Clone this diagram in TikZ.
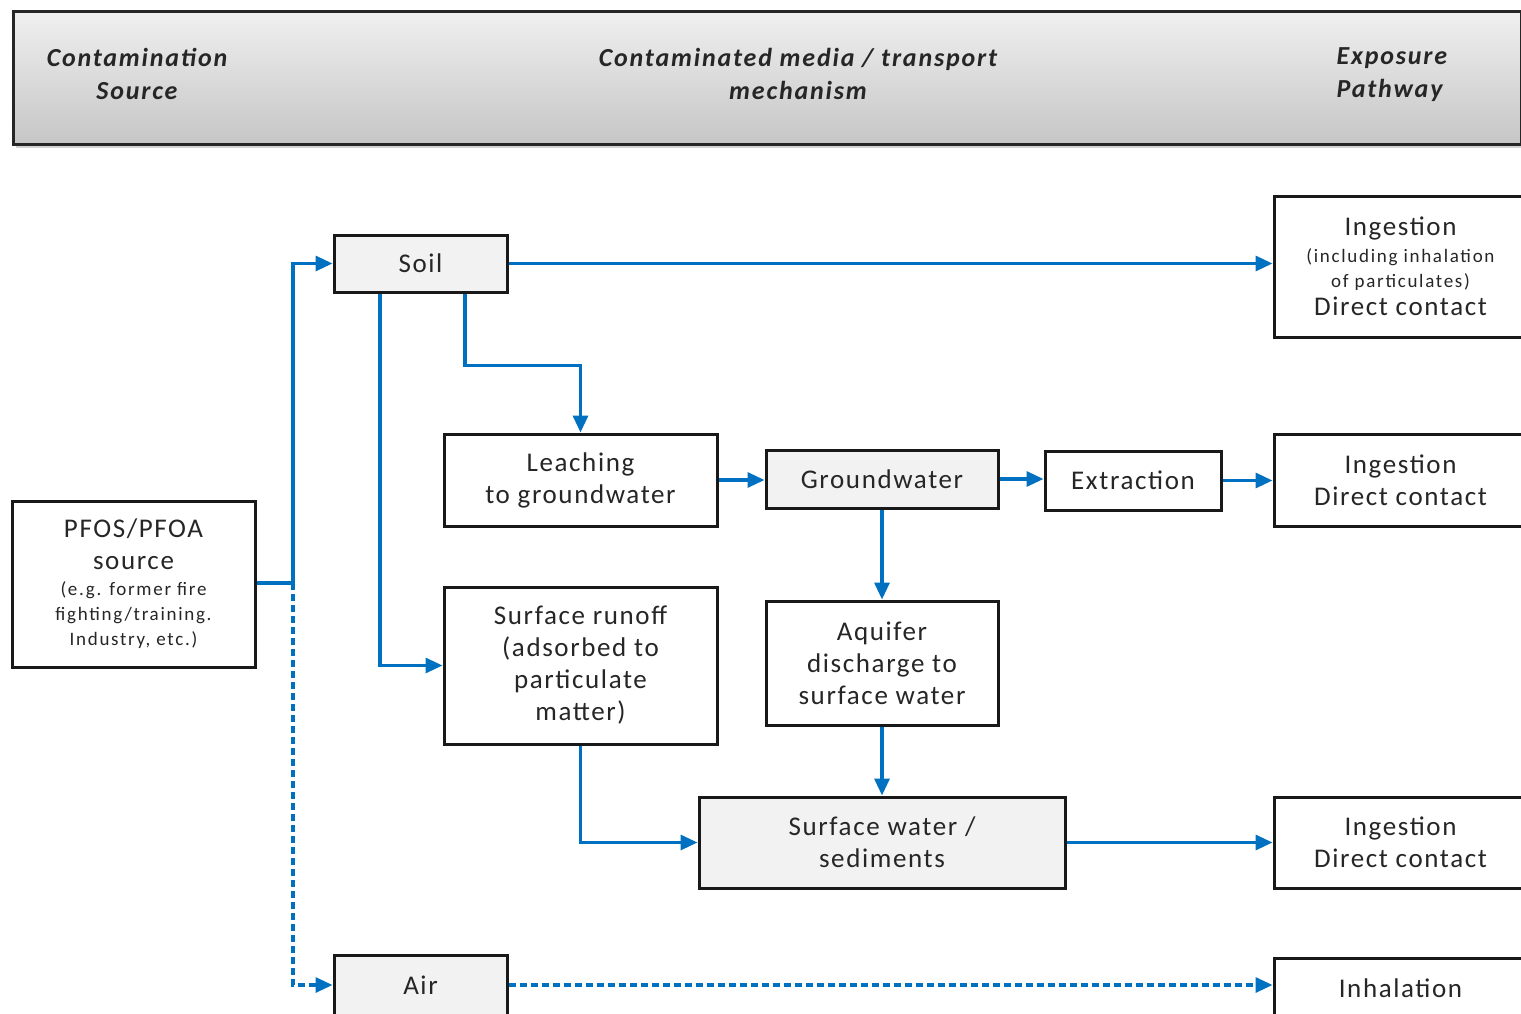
\documentclass[tikz,border=0pt]{standalone}
\usepackage{fontspec}
\setmainfont{Carlito}[LetterSpace=6]
\newfontfamily\hdrfont{Carlito}[LetterSpace=7]
\newfontfamily\smallfont{Carlito}[LetterSpace=9]
\usetikzlibrary{arrows.meta,shadows,calc}
\definecolor{flow}{RGB}{0,112,192}
\definecolor{boxgray}{RGB}{242,242,242}
\definecolor{txt}{RGB}{38,38,38}
\newcommand{\smtxt}[1]{{\smallfont\fontsize{19}{24}\selectfont #1}}
\tikzset{
  box/.style={draw=black!90, line width=3pt, rectangle, align=center, inner sep=2pt, text=txt, font=\fontsize{27}{32}\selectfont},
  graybox/.style={box, fill=boxgray},
  whitebox/.style={box, fill=white},
  conn/.style={draw=flow, line width=3.2pt, -{Triangle[length=17pt,width=15pt]}},
  plainconn/.style={draw=flow, line width=3.2pt},
  dashconn/.style={dash pattern=on 7pt off 4pt},
  hdr/.style={font=\hdrfont\fontsize{26}{33}\selectfont\bfseries\itshape, text=txt, align=center}
}
\begin{document}
\begin{tikzpicture}[x=1pt,y=-1pt]
\useasboundingbox (0,0) rectangle (1521,1014);
\clip (0,0) rectangle (1521,1014);
\fill[white] (0,0) rectangle (1521,1014);
% header
\node[draw=black!85, line width=3pt, minimum width=1508pt, minimum height=133pt, anchor=north west,
      top color=gray!12, bottom color=gray!45, drop shadow={shadow xshift=2pt, shadow yshift=-4pt, opacity=0.35}] (hdrbox) at (12,10) {};
\node[hdr] (h1) at (137,74) {Contamination\\Source};
\node[hdr] (h2) at (798,74) {Contaminated media / transport\\mechanism};
\node[hdr, align=left, anchor=west] (h3) at (1333,75) {Exposure\\Pathway};
% boxes
\node[graybox, minimum width=173pt, minimum height=57pt] (soil) at (420.5,263.5) {Soil};
\node[whitebox, minimum width=253pt, minimum height=141pt] (ing1) at (1400.5,266.5) {Ingestion\\[-5pt]\smtxt{(including inhalation}\\[-7pt]\smtxt{of particulates)}\\[-4pt]Direct contact};
\node[whitebox, minimum width=273pt, minimum height=92pt] (leach) at (580.5,480) {Leaching\\to groundwater};
\node[graybox, minimum width=232pt, minimum height=58pt] (gw) at (882,479) {Groundwater};
\node[whitebox, minimum width=176pt, minimum height=59pt] (ext) at (1133,480.5) {Extraction};
\node[whitebox, minimum width=253pt, minimum height=92pt] (ing2) at (1400.5,480) {Ingestion\\Direct contact};
\node[whitebox, minimum width=243pt, minimum height=166pt] (src) at (133.5,584) {PFOS/PFOA\\source\\[-6pt]\smtxt{(e.g. former fire}\\[-7pt]\smtxt{fighting/training.}\\[-7pt]\smtxt{Industry, etc.)}};
\node[whitebox, minimum width=273pt, minimum height=157pt] (runoff) at (580.5,665.5) {Surface runoff\\(adsorbed to\\particulate\\matter)};
\node[whitebox, minimum width=232pt, minimum height=124pt] (aq) at (882,663) {Aquifer\\discharge to\\surface water};
\node[graybox, minimum width=366pt, minimum height=91pt] (sw) at (882,842.5) {Surface water /\\sediments};
\node[whitebox, minimum width=253pt, minimum height=91pt] (ing3) at (1400.5,842.5) {Ingestion\\Direct contact};
\node[graybox, minimum width=173pt, minimum height=60pt] (air) at (420.5,985) {Air};
\node[whitebox, minimum width=253pt, minimum height=60pt] (inh) at (1400.5,988) {Inhalation};
% connectors
\coordinate (j) at (293,583);
\draw[plainconn] (src.east |- j) -- (j);
\draw[conn] (j) |- (soil.west);
\draw[conn, dashconn] (j) |- (air.west);
\draw[conn] (soil.east) -- (soil.east -| ing1.west);
\draw[conn] ([xshift=44.5pt]soil.south) -- ++(0,72) -| (leach.north);
\draw[conn] ([xshift=-40.5pt]soil.south) |- (runoff.west);
\draw[conn] (leach.east) -- (leach.east -| gw.west);
\draw[conn] (gw.east) -- (gw.east -| ext.west);
\draw[conn] (ext.east) -- (ext.east -| ing2.west);
\draw[conn] (gw.south) -- (aq.north);
\draw[conn] (aq.south) -- (sw.north);
\draw[conn] (runoff.south) |- (sw.west);
\draw[conn] (sw.east) -- (ing3.west);
\draw[conn, dashconn] (air.east) -- (air.east -| inh.west);
\end{tikzpicture}
\end{document}
